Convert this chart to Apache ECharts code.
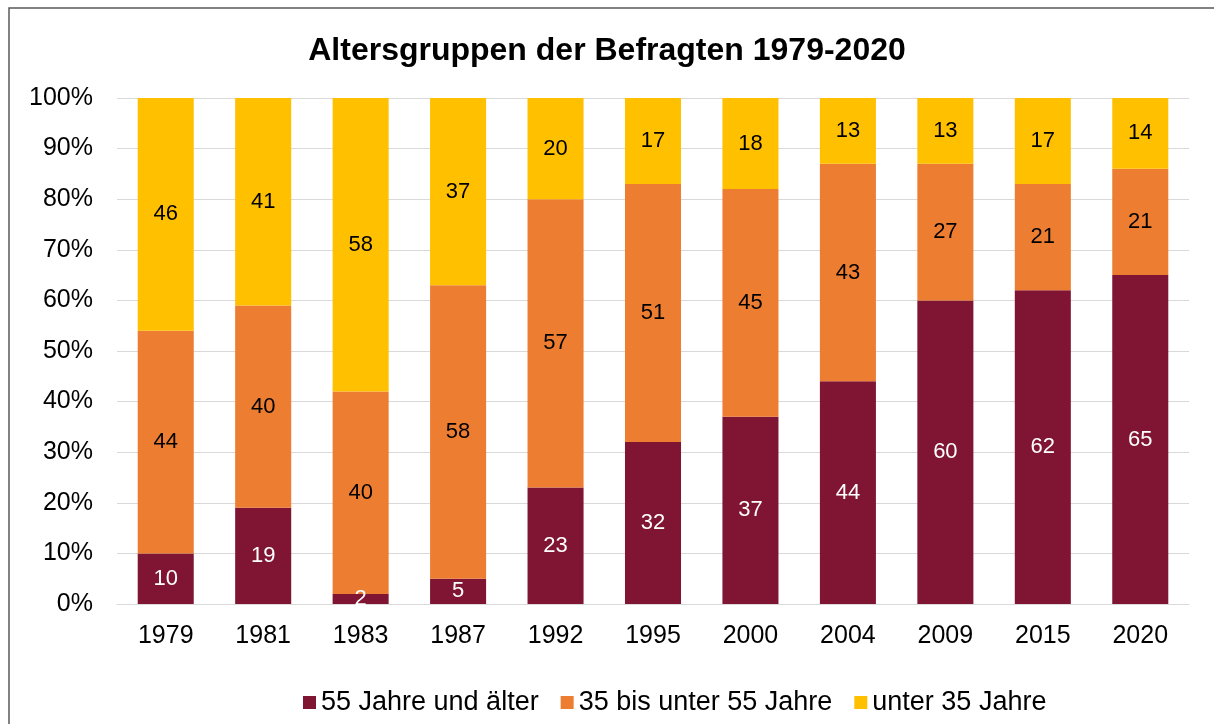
<!DOCTYPE html>
<html lang="de" style="height: 100%">
<head>
    <meta charset="utf-8">
    <title>Altersgruppen der Befragten</title>
    <script src="https://cdn.jsdelivr.net/npm/echarts@6.0.0/dist/echarts.min.js"></script>
    <style>
        html, body { margin: 0; padding: 0; background: #fff; }
    </style>
</head>
<body>
<div id="chart" style="width:1214px;height:724px"></div>
<script type="text/javascript">
    // Daten
    var jahre = ['1979', '1981', '1983', '1987', '1992', '1995', '2000', '2004', '2009', '2015', '2020'];
    var ab55 = [10, 19, 2, 5, 23, 32, 37, 44, 60, 62, 65];
    var von35bis55 = [44, 40, 40, 58, 57, 51, 45, 43, 27, 21, 21];
    var unter35 = [46, 41, 58, 37, 20, 17, 18, 13, 13, 17, 14];
    var yTicks = ['0%', '10%', '20%', '30%', '40%', '50%', '60%', '70%', '80%', '90%', '100%'];

    var font = 'Liberation Sans, Arial, sans-serif';
    var myChart = echarts.init(document.getElementById('chart'), null, { renderer: 'canvas' });

    function serie(name, data, color, labelColor) {
        return {
            name: name,
            type: 'bar',
            stack: 'total',
            barWidth: '57.5%',
            data: data,
            itemStyle: { color: color },
            label: {
                show: true,
                position: 'inside',
                color: labelColor,
                fontFamily: font,
                fontSize: 22
            }
        };
    }

    var option = {
        backgroundColor: '#fff',
        animation: false,
        title: {
            text: 'Altersgruppen der Befragten 1979-2020',
            left: 'center',
            top: 30,
            textStyle: { fontFamily: font, fontSize: 32, fontWeight: 'bold', color: '#000' }
        },
        graphic: [{
            type: 'rect',
            shape: { x: 9, y: 8, width: 1220, height: 730 },
            style: { fill: 'none', stroke: '#595959', lineWidth: 1.5 },
            silent: true
        }],
        legend: {
            top: 684,
            left: 298,
            itemWidth: 13,
            itemHeight: 13,
            itemGap: 22,
            icon: 'rect',
            textStyle: { fontFamily: font, fontSize: 27, color: '#000' },
            data: ['55 Jahre und älter', '35 bis unter 55 Jahre', 'unter 35 Jahre']
        },
        grid: { left: 117, right: 25, top: 98, bottom: 120 },
        xAxis: {
            type: 'category',
            data: jahre,
            axisLine: { lineStyle: { color: '#D9D9D9' } },
            axisTick: { show: false },
            axisLabel: { color: '#000', fontFamily: font, fontSize: 25, margin: 20 }
        },
        yAxis: {
            type: 'value',
            min: 0,
            max: 100,
            interval: 10,
            axisLine: { show: false },
            axisTick: { show: false },
            splitLine: { lineStyle: { color: '#D9D9D9' } },
            axisLabel: {
                color: '#000', fontFamily: font, fontSize: 25, margin: 24,
                formatter: function (v) { return yTicks[Math.round(v / 10)]; }
            }
        },
        series: [
            serie('55 Jahre und älter', ab55, '#7F1533', '#fff'),
            serie('35 bis unter 55 Jahre', von35bis55, '#ED7D31', '#000'),
            serie('unter 35 Jahre', unter35, '#FFC000', '#000')
        ]
    };
    myChart.setOption(option);
</script>
</body>
</html>
